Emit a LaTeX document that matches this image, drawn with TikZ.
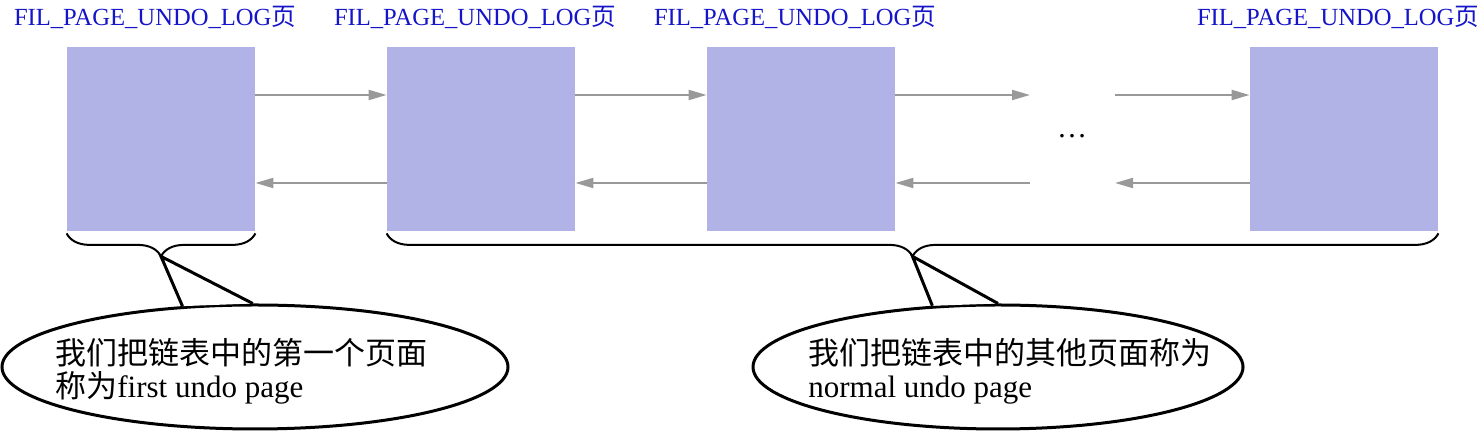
\documentclass[tikz,border=0pt]{standalone}
\usepackage{fontspec}
\setmainfont{Liberation Serif}
\newfontfamily\cjk{Noto Sans CJK SC}
\usetikzlibrary{arrows.meta,shapes.geometric,decorations.pathreplacing}

\definecolor{pagefill}{RGB}{177,179,230}
\definecolor{linkgray}{RGB}{153,153,153}
\definecolor{tagblue}{RGB}{20,20,200}

\tikzset{
  page/.style={fill=pagefill, minimum width=94pt, minimum height=92pt, inner sep=0pt},
  tag/.style={text=tagblue, font=\fontsize{12.3}{14}\selectfont, inner sep=0pt},
  link/.style={draw=linkgray, line width=1pt, -{Triangle[length=9pt,width=5pt]}},
  group/.style={decorate, decoration={brace, mirror, amplitude=11.5pt}, line width=1pt},
  bubble/.style={ellipse, draw, line width=1.5pt, inner sep=0pt, minimum height=62pt},
  note/.style={align=left, inner sep=0pt, font=\fontsize{15.5}{16.5}\selectfont},
}

\begin{document}
\begin{tikzpicture}[x=0.5pt,y=-0.5pt]
\useasboundingbox (0,0) rectangle (1482,431);

% the pages of the undo log list
\foreach \n/\x in {1/161,2/481,3/801,4/1344}{
    \node[page] (p\n) at (\x,139) {};
    \node[tag] (t\n) at (\x-6,17) {FIL\_PAGE\_UNDO\_LOG{\cjk 页}};
}

\coordinate (gapL) at (1030,139);
\coordinate (gapR) at (1115,139);
\node (dots) at (1072,136) {\fontsize{15}{15}\selectfont\dots};

% next / prev links
\draw[link] ([yshift=22pt]p1.east) -- ([yshift=22pt]p2.west);
\draw[link] ([yshift=22pt]p2.east) -- ([yshift=22pt]p3.west);
\draw[link] ([yshift=22pt]p3.east) -- ([yshift=22pt]gapL);
\draw[link] ([yshift=22pt]gapR) -- ([yshift=22pt]p4.west);
\draw[link] ([yshift=-22pt]p2.west) -- ([yshift=-22pt]p1.east);
\draw[link] ([yshift=-22pt]p3.west) -- ([yshift=-22pt]p2.east);
\draw[link] ([yshift=-22pt]gapL) -- ([yshift=-22pt]p3.east);
\draw[link] ([yshift=-22pt]p4.west) -- ([yshift=-22pt]gapR);

% braces
\draw[group] ([yshift=-1pt]p1.south west) --
    coordinate[pos=0.5, yshift=-11.5pt] (tip1) ([yshift=-1pt]p1.south east);
\draw[group] ([yshift=-1pt]p2.south west) --
    coordinate[pos=0.5, yshift=-11.5pt] (tip2) ([yshift=-1pt]p4.south east);

% callouts
\node[bubble, minimum width=253pt] (b1) at (255,367) {};
\fill[white] (b1.140) -- (tip1) -- (b1.92) -- cycle;
\draw[line width=1.5pt] (b1.140) -- (tip1) -- (b1.92);
\node[note, anchor=west] (n1) at (55,371)
    {{\cjk 我们把链表中的第一个页面}\\{\cjk 称为}first undo page};

\node[bubble, minimum width=245pt] (b2) at (998,367) {};
\fill[white] (b2.137) -- (tip2) -- (b2.90) -- cycle;
\draw[line width=1.5pt] (b2.137) -- (tip2) -- (b2.90);
\node[note, anchor=west] (n2) at (808,371)
    {{\cjk 我们把链表中的其他页面称为}\\normal undo page};
\end{tikzpicture}
\end{document}
